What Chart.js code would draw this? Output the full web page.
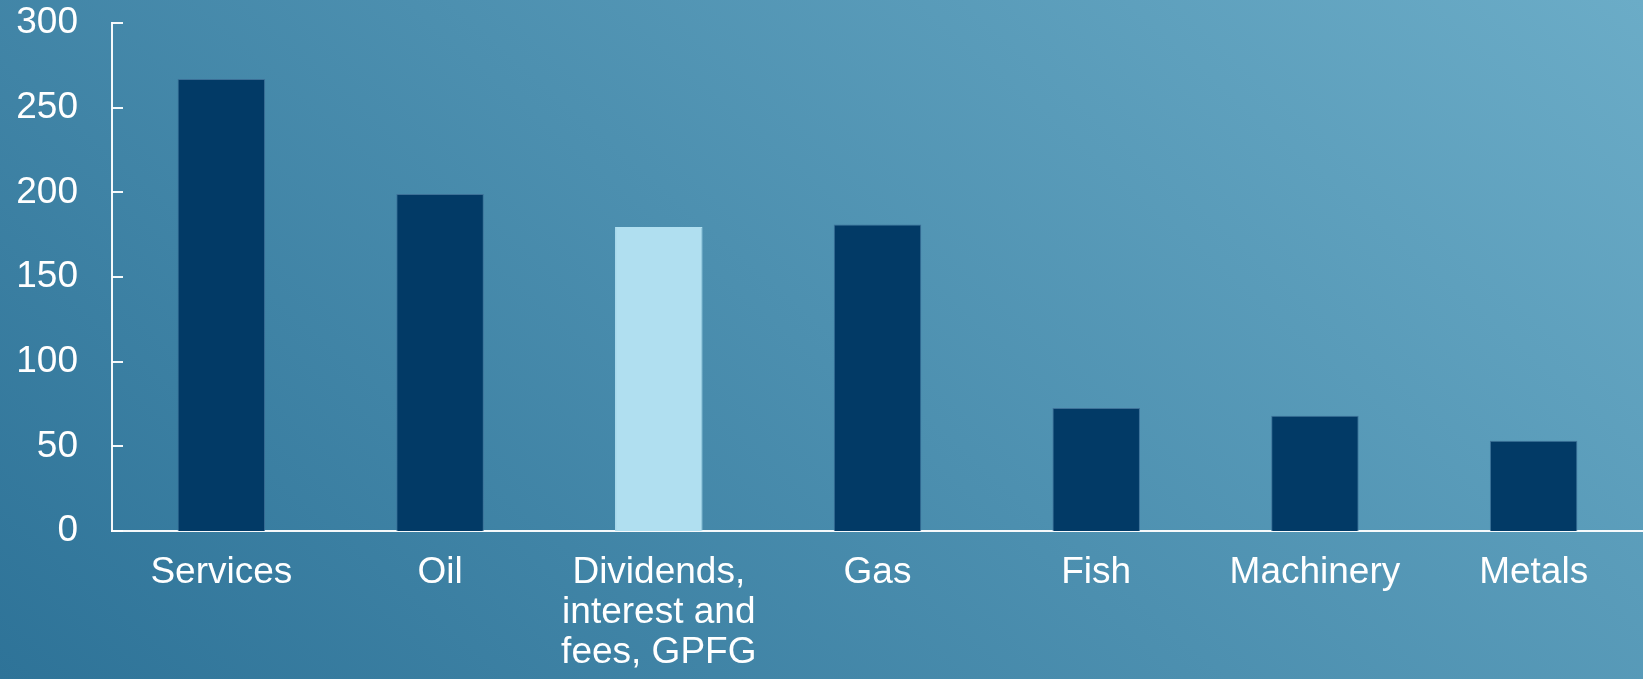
<!DOCTYPE html>
<html>
<head>
<meta charset="utf-8">
<script src="https://cdn.jsdelivr.net/npm/chart.js@4.4.1/dist/chart.umd.min.js"></script>
<style>
  html, body { margin: 0; padding: 0; }
  body {
    width: 1643px; height: 679px; overflow: hidden;
    background: linear-gradient(41deg, #2e7398 0%, #6bacc7 100%);
  }
  #wrap { position: absolute; left: 0; top: 0; width: 1643px; height: 679px; }
</style>
</head>
<body>
<div id="wrap"><canvas id="c"></canvas></div>
<script>
const categories = ["Services", "Oil", ["Dividends,", "interest and", "fees, GPFG"], "Gas", "Fish", "Machinery", "Metals"];
const values = [267, 199, 179.5, 181, 72.6, 68.1, 53.3];
const highlight = [false, false, true, false, false, false, false];
const yTicks = [0, 50, 100, 150, 200, 250, 300];

const DARK = "#023a66";
const LIGHT = "#b0dff0";

const innerTicks = {
  id: "innerTicks",
  afterDraw(chart) {
    const ctx = chart.ctx;
    const y = chart.scales.y;
    ctx.save();
    ctx.strokeStyle = "rgba(255,255,255,0.95)";
    ctx.lineWidth = 2;
    y.ticks.forEach((t, i) => {
      const py = Math.round(y.getPixelForTick(i));
      ctx.beginPath();
      ctx.moveTo(y.right, py);
      ctx.lineTo(y.right + 11, py);
      ctx.stroke();
    });
    ctx.restore();
  }
};

new Chart(document.getElementById("c"), {
  type: "bar",
  data: {
    labels: categories,
    datasets: [{
      data: values,
      backgroundColor: highlight.map(h => h ? LIGHT : DARK),
      borderColor: highlight.map(h => h ? LIGHT : "rgba(60,110,150,0.9)"),
      borderWidth: 1,
      borderSkipped: "bottom",
      barPercentage: 0.4,
      categoryPercentage: 1.0
    }]
  },
  options: {
    responsive: true,
    maintainAspectRatio: false,
    animation: false,
    layout: { padding: { top: 23, right: 0, left: 0, bottom: 0 } },
    plugins: { legend: { display: false }, tooltip: { enabled: false } },
    scales: {
      x: {
        grid: { display: false, drawTicks: false },
        border: { display: true, color: "rgba(255,255,255,0.95)", width: 2 },
        ticks: {
          color: "#ffffff",
          padding: 22,
          maxRotation: 0,
          autoSkip: false,
          font: { family: "'Liberation Sans', Arial, sans-serif", size: 37, lineHeight: 1.08 }
        },
        afterFit(s) { s.height = 148; s.paddingLeft = 0; s.paddingRight = 0; }
      },
      y: {
        min: 0, max: 300,
        afterBuildTicks(s) { s.ticks = yTicks.map(v => ({ value: v })); },
        grid: { display: false, drawTicks: false },
        border: { display: true, color: "rgba(255,255,255,0.95)", width: 2 },
        ticks: {
          color: "#ffffff",
          padding: 34,
          font: { family: "'Liberation Sans', Arial, sans-serif", size: 37 }
        },
        afterFit(s) { s.width = 112; s.paddingTop = 0; s.paddingBottom = 0; }
      }
    }
  },
  plugins: [innerTicks]
});
</script>
</body>
</html>
